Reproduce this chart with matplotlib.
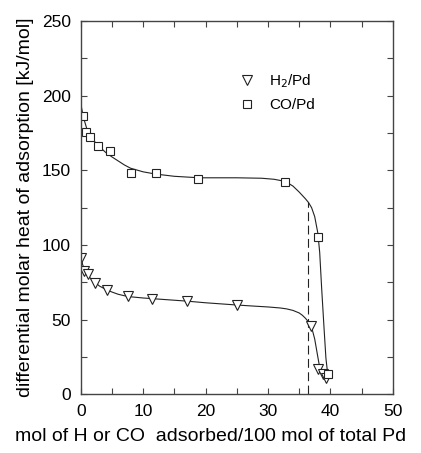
import matplotlib

matplotlib.use("Agg")
import matplotlib.pyplot as plt
from matplotlib.ticker import MultipleLocator

plt.rcParams["font.family"] = ["Liberation Sans", "DejaVu Sans"]

# measured points (mol adsorbed / 100 mol Pd, kJ/mol)
h2_x = [0.1, 0.5, 1.1, 2.35, 4.2, 7.5, 11.5, 17.0, 25.1, 36.9, 38.0, 38.8, 39.3]
h2_q = [91.5, 82.8, 80.4, 74.8, 69.7, 65.6, 63.8, 62.5, 59.6, 46.0, 17.2, 13.6, 10.7]

co_x = [0.35, 0.88, 1.55, 2.77, 4.75, 8.0, 12.0, 18.85, 32.7, 38.0, 39.6]
co_q = [186.6, 176.0, 172.5, 166.4, 163.1, 148.4, 148.0, 144.0, 142.0, 105.5, 13.8]

# fitted curves
h2_fit_x = [0.0, 0.3, 0.6, 1.0, 1.5, 2.0, 3.0, 4.0, 5.0, 6.0, 7.0, 8.0, 10.0,
            12.0, 15.0, 17.0, 20.0, 25.0, 28.0, 30.0, 32.0, 33.0, 34.0, 35.0,
            35.5, 36.0, 36.5, 37.0, 37.5, 38.0, 38.3, 38.7, 39.3]
h2_fit_q = [93.0, 87.0, 83.5, 80.5, 78.0, 76.0, 72.5, 70.3, 68.5, 67.0, 66.0,
            65.3, 64.5, 63.9, 63.0, 62.4, 61.3, 59.8, 59.0, 58.5, 57.8, 57.2,
            56.2, 54.5, 53.0, 51.0, 48.5, 45.0, 37.0, 25.0, 18.0, 14.0, 10.5]

co_fit_x = [0.0, 0.4, 1.0, 1.5, 2.0, 3.0, 4.0, 5.0, 6.0, 7.0, 8.0, 10.0, 12.0,
            15.0, 19.0, 25.0, 29.0, 31.0, 32.0, 33.0, 34.0, 35.0, 36.0, 36.5,
            37.0, 37.5, 38.0, 38.3, 38.6, 39.0, 39.3, 39.6]
co_fit_q = [195.0, 186.0, 177.5, 173.5, 170.3, 165.8, 162.0, 159.0, 156.3,
            153.6, 151.4, 149.0, 147.5, 146.0, 145.0, 145.0, 144.7, 144.0,
            143.2, 142.0, 139.5, 135.5, 131.0, 128.5, 125.0, 119.0, 108.0,
            95.0, 72.0, 44.0, 24.0, 13.0]

# saturation marker
sat_x = 36.5
sat_top = 128.5


def main() -> None:
    fig = plt.figure(figsize=(4.21, 4.53), dpi=100)
    ax = fig.add_axes([0.1917, 0.1296, 0.7411, 0.824])

    line_kw = dict(color="#222222", lw=0.8)
    ax.plot(co_fit_x, co_fit_q, **line_kw)
    ax.plot(h2_fit_x, h2_fit_q, **line_kw)
    ax.plot([sat_x, sat_x], [0, sat_top], color="#222222", lw=0.8,
            dashes=(8, 4))

    mk = dict(ls="none", mfc="white", mec="#222222", mew=0.8)
    ax.plot(h2_x, h2_q, marker="v", ms=7, label="H$_2$/Pd", **mk)
    ax.plot(co_x, co_q, marker="s", ms=6, label="CO/Pd", **mk)

    ax.set_xlim(0, 50)
    ax.set_ylim(0, 250)
    ax.xaxis.set_major_locator(MultipleLocator(10))
    ax.xaxis.set_minor_locator(MultipleLocator(5))
    ax.yaxis.set_major_locator(MultipleLocator(50))
    ax.yaxis.set_minor_locator(MultipleLocator(25))
    ax.tick_params(which="both", direction="in", top=True, right=True,
                   length=4, width=0.8, color="#444444", labelsize=12.5,
                   pad=7)
    for s in ax.spines.values():
        s.set_color("#444444")
        s.set_linewidth(1.0)

    # x label is centred on the figure, not on the axes
    ax.set_xlabel("mol of H or CO  adsorbed/100 mol of total Pd",
                  fontsize=14, va="center")
    ax.xaxis.set_label_coords(0.416, -0.114)
    ax.set_ylabel("differential molar heat of adsorption [kJ/mol]",
                  fontsize=14, labelpad=6)

    ax.legend(loc="upper left", bbox_to_anchor=(0.458, 0.90), frameon=False,
              fontsize=11, handlelength=1.2, handletextpad=0.9,
              labelspacing=0.55)

    fig.savefig("out.png", dpi=100)
    plt.close(fig)


if __name__ == "__main__":
    main()
